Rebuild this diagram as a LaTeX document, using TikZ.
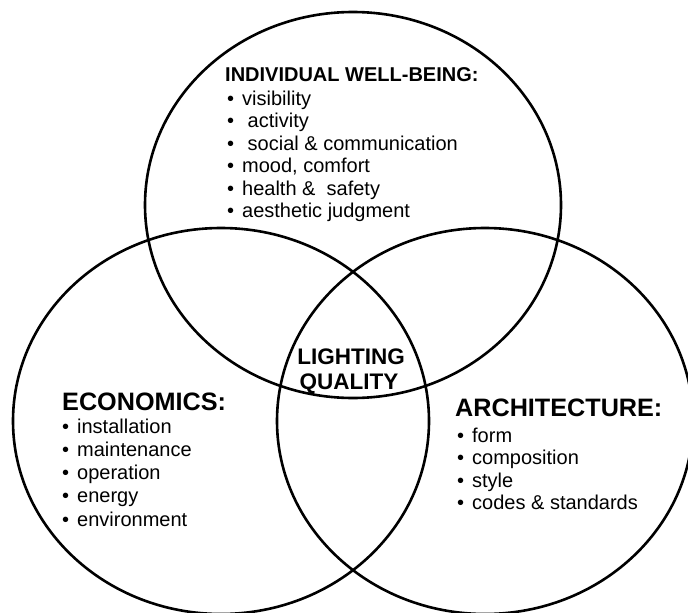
\documentclass[tikz,border=0pt]{standalone}
\usepackage{fontspec}
\setmainfont{Liberation Sans}
\usetikzlibrary{positioning}

\newcommand{\bul}[1]{\makebox[15pt][l]{\textbullet}#1}

\begin{document}
\begin{tikzpicture}
		[x=1pt, y=-1pt,
		ring/.style ={draw=black, line width=2.6pt},
		head/.style ={font=\fontsize{20}{22.5}\selectfont\bfseries, inner sep=0pt, anchor=base west},
		bighead/.style ={font=\fontsize{25.2}{28}\selectfont\bfseries, inner sep=0pt, anchor=base west},
		centre/.style ={font=\fontsize{22.5}{25}\selectfont\bfseries, inner sep=0pt, anchor=base},
		item/.style ={font=\fontsize{20}{22.5}\selectfont, inner sep=0pt, anchor=base west}]
		\useasboundingbox (0,0) rectangle (688,613);

		% the three sets
		\draw[ring] (353,205) ellipse [x radius=208pt, y radius=193pt];
		\draw[ring] (221,421) ellipse [x radius=208pt, y radius=193pt];
		\draw[ring] (485,421) ellipse [x radius=208pt, y radius=193pt];

		% individual well-being
		\node[head] (wb) at (225,81) {INDIVIDUAL WELL-BEING:};
		\foreach \txt [count=\i] in {visibility, {\ activity}, {\ social \& communication}, {mood, comfort}, {health \&\ \ safety}, {aesthetic judgment}}
			\node[item] (wb\i) at (227,{105+22.5*(\i-1)}) {\bul{\txt}};

		% economics
		\node[bighead] (eco) at (62,410) {ECONOMICS:};
		\foreach \txt [count=\i] in {installation, maintenance, operation, energy, environment}
			\node[item] (eco\i) at (62,{433+23.3*(\i-1)}) {\bul{\txt}};

		% architecture
		\node[bighead] (arch) at (455,416) {ARCHITECTURE:};
		\foreach \txt [count=\i] in {form, composition, style, {codes \& standards}}
			\node[item] (arch\i) at (457,{442+22.5*(\i-1)}) {\bul{\txt}};

		% intersection
		\node[centre] (lq1) at (351,364) {LIGHTING};
		\node[centre] (lq2) at (349,389) {QUALITY};

	\end{tikzpicture}
\end{document}
